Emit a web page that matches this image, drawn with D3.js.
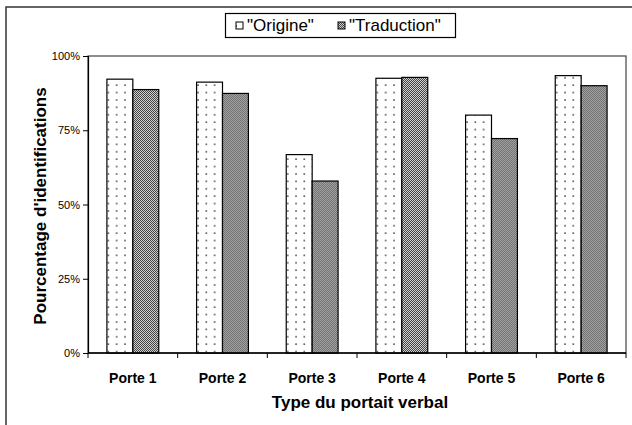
<!DOCTYPE html>
<html>
<head>
<meta charset="utf-8">
<script src="https://cdn.jsdelivr.net/npm/d3@7"></script>
<style>
  body { margin: 0; background: #fff; }
  svg { display: block; font-family: 'Liberation Sans', Arial, sans-serif; }
</style>
</head>
<body>
<div class="chart"></div>
<script>
const categories = ['Porte 1', 'Porte 2', 'Porte 3', 'Porte 4', 'Porte 5', 'Porte 6'];
const seriesNames = ['"Origine"', '"Traduction"'];
const origine = [92.2, 91.2, 66.8, 92.5, 80.1, 93.4];
const traduction = [88.7, 87.4, 57.9, 92.8, 72.2, 90.0];
const yTicks = [0, 25, 50, 75, 100];

const width = 632, height = 425;
const plot = { left: 88, right: 626, top: 56, bottom: 353 };

const svg = d3.select('.chart').append('svg')
    .attr('width', width)
    .attr('height', height);

const defs = svg.append('defs');

// sparse dots for "Origine"
const dots = defs.append('pattern')
    .attr('id', 'dots')
    .attr('patternUnits', 'userSpaceOnUse')
    .attr('width', 8.3).attr('height', 7.4);
dots.append('rect').attr('width', 8.3).attr('height', 7.4).attr('fill', '#fff');
dots.append('rect').attr('x', 3).attr('y', 3).attr('width', 1.6).attr('height', 1.6).attr('fill', '#555');

// dense checker for "Traduction"
const checker = defs.append('pattern')
    .attr('id', 'checker')
    .attr('patternUnits', 'userSpaceOnUse')
    .attr('width', 2).attr('height', 2);
checker.append('rect').attr('width', 2).attr('height', 2).attr('fill', '#d0d0d0');
checker.append('rect').attr('width', 1).attr('height', 1).attr('fill', '#444');
checker.append('rect').attr('x', 1).attr('y', 1).attr('width', 1).attr('height', 1).attr('fill', '#444');

const fills = ['url(#dots)', 'url(#checker)'];

// outer chart border (only left/top visible)
svg.append('rect')
    .attr('x', 6).attr('y', 7)
    .attr('width', 660).attr('height', 440)
    .attr('fill', 'none')
    .attr('stroke', '#333')
    .attr('stroke-width', 1.5);

const x0 = d3.scaleBand()
    .domain(categories)
    .range([plot.left, plot.right]);

const x1 = d3.scaleBand()
    .domain(seriesNames)
    .range([0, x0.bandwidth()])
    .paddingOuter(0.73);

const y = d3.scaleLinear()
    .domain([0, 100])
    .range([plot.bottom, plot.top]);

// plot area frame
svg.append('rect')
    .attr('x', plot.left).attr('y', plot.top)
    .attr('width', plot.right - plot.left)
    .attr('height', plot.bottom - plot.top)
    .attr('fill', 'none')
    .attr('stroke', '#444')
    .attr('stroke-width', 1.2);

const rows = categories.map((c, i) => ({ cat: c, values: [origine[i], traduction[i]] }));

const groups = svg.append('g')
    .selectAll('g')
    .data(rows)
    .enter().append('g')
    .attr('transform', d => `translate(${x0(d.cat)},0)`);

groups.selectAll('rect')
    .data(d => d.values.map((v, j) => ({ name: seriesNames[j], v, j })))
    .enter().append('rect')
    .attr('x', d => x1(d.name))
    .attr('y', d => y(d.v))
    .attr('width', x1.bandwidth())
    .attr('height', d => y(0) - y(d.v))
    .attr('fill', d => fills[d.j])
    .attr('stroke', '#000')
    .attr('stroke-width', 1.2);

// y axis
const yAxis = svg.append('g')
    .attr('transform', `translate(${plot.left},0)`)
    .call(d3.axisLeft(y).tickValues(yTicks).tickFormat(d => d + '%').tickSize(5).tickPadding(3));
yAxis.select('.domain').attr('stroke', '#000').attr('stroke-width', 1.2);
yAxis.selectAll('line').attr('stroke', '#000');
yAxis.selectAll('text').attr('font-size', 11).attr('fill', '#000');

// x axis: ticks at category boundaries
const xAxis = svg.append('g')
    .attr('transform', `translate(0,${plot.bottom})`);
xAxis.append('line')
    .attr('x1', plot.left).attr('x2', plot.right)
    .attr('stroke', '#000').attr('stroke-width', 1.5);
xAxis.selectAll('.tick')
    .data(categories.concat(['end']))
    .enter().append('line')
    .attr('x1', (d, i) => i < categories.length ? x0(d) : plot.right)
    .attr('x2', (d, i) => i < categories.length ? x0(d) : plot.right)
    .attr('y1', 0).attr('y2', 5)
    .attr('stroke', '#000');
xAxis.selectAll('text')
    .data(categories)
    .enter().append('text')
    .attr('x', d => x0(d) + x0.bandwidth() / 2)
    .attr('y', 30)
    .attr('text-anchor', 'middle')
    .attr('font-size', 14)
    .attr('font-weight', 'bold')
    .text(d => d);

// axis titles
svg.append('text')
    .attr('x', (plot.left + plot.right) / 2 + 3)
    .attr('y', 408)
    .attr('text-anchor', 'middle')
    .attr('font-size', 17)
    .attr('font-weight', 'bold')
    .text('Type du portait verbal');

svg.append('text')
    .attr('transform', `translate(46,206) rotate(-90)`)
    .attr('text-anchor', 'middle')
    .attr('font-size', 17)
    .attr('font-weight', 'bold')
    .text("Pourcentage d'identifications");

// legend
const legend = svg.append('g');
legend.append('rect')
    .attr('x', 225.5).attr('y', 13.5)
    .attr('width', 230).attr('height', 24)
    .attr('fill', '#fff')
    .attr('stroke', '#000')
    .attr('stroke-width', 1.2);
const legX = [236, 338];
seriesNames.forEach((s, i) => {
    legend.append('rect')
        .attr('x', legX[i]).attr('y', 22)
        .attr('width', 7).attr('height', 7)
        .attr('fill', fills[i])
        .attr('stroke', '#000');
    legend.append('text')
        .attr('x', legX[i] + 11).attr('y', 31)
        .attr('font-size', 17)
        .text(s);
});
</script>
</body>
</html>
